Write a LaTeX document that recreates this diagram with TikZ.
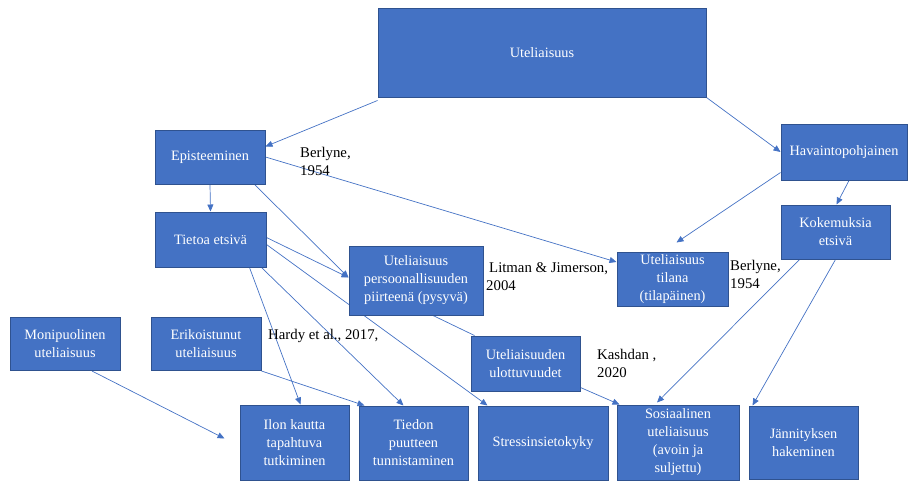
\documentclass[tikz,border=0pt]{standalone}
\usepackage{fontspec}
\setmainfont{Liberation Serif}
\usetikzlibrary{arrows.meta,backgrounds}
\definecolor{boxfill}{HTML}{4472C4}
\definecolor{boxline}{HTML}{2F528F}
\definecolor{linkblue}{HTML}{4472C4}

\begin{document}
\begin{tikzpicture}[x=1pt,y=-1pt,
  box/.style={draw=boxline, line width=1pt, fill=boxfill, text=white,
    align=center, inner sep=0pt, font=\fontsize{14.3}{18}\selectfont},
  wh/.style 2 args={minimum width=#1pt, minimum height=#2pt},
  ref/.style={anchor=west, align=left, inner sep=0pt,
    font=\fontsize{14.8}{18}\selectfont, text=black},
  link/.style={draw=linkblue, line width=0.7pt},
  arr/.style={link, -{Triangle[length=7pt,width=6pt]}}]
\useasboundingbox (0,0) rectangle (909,482);

% concept boxes
\node[box, wh={328}{89}]  (U) at (542,52.5)   {Uteliaisuus};
\node[box, wh={110}{54}]  (E) at (210,157)    {Episteeminen};
\node[box, wh={126}{56}]  (H) at (844,152)    {Havaintopohjainen};
\node[box, wh={111}{55}]  (T) at (210.5,239.5){Tietoa etsivä};
\node[box, wh={109}{54}]  (K) at (835.5,232)  {Kokemuksia\\etsivä};
\node[box, wh={134}{69}]  (P) at (416,280.5)  {Uteliaisuus\\persoonallisuuden\\piirteenä (pysyvä)};
\node[box, wh={111}{54}]  (S) at (672.5,279)  {Uteliaisuus\\tilana\\(tilapäinen)};
\node[box, wh={110}{53}]  (M) at (65,344)     {Monipuolinen\\uteliaisuus};
\node[box, wh={110}{53}]  (R) at (206,344)    {Erikoistunut\\uteliaisuus};
\node[box, wh={109}{55}]  (D) at (525.5,363.5){Uteliaisuuden\\ulottuvuudet};
\node[box, wh={109}{75}]  (I) at (294.5,442.5){Ilon kautta\\tapahtuva\\tutkiminen};
\node[box, wh={109}{74}]  (N) at (413.5,443)  {Tiedon\\puutteen\\tunnistaminen};
\node[box, wh={130}{74}]  (Z) at (543,443)    {Stressinsietokyky};
\node[box, wh={122}{75}]  (O) at (678,442.5)  {Sosiaalinen\\uteliaisuus\\(avoin ja\\suljettu)};
\node[box, wh={109}{73}]  (J) at (803.5,442.5){Jännityksen\\hakeminen};

% source references
\node[ref] (L1) at (300,161.5) {Berlyne,\\1954};
\node[ref] (L2) at (486,277)   {\hspace*{3pt}Litman \& Jimerson,\\2004};
\node[ref] (L3) at (730,274)   {Berlyne,\\1954};
\node[ref] (L4) at (268,336)   {Hardy et al., 2017,};
\node[ref] (L5) at (597,363)   {Kashdan ,\\2020};

% loose arrow end left of the exploration box
\coordinate (Mtip) at ([xshift=-15pt,yshift=4pt]I.west);

% connectors, kept behind the boxes
\begin{scope}[on background layer]
\draw[arr] ([yshift=-3pt]U.south west) -- ([yshift=-17pt]E.north east);
\draw[arr] (U.south east) -- (H.west);
\draw[arr] (E.south) -- (T.north);
\draw[arr] (E.east) -- ([yshift=17pt]S.west);
\draw[arr] ([xshift=-11pt]E.south east) -- ([yshift=3pt]P.west);
\draw[arr] ([yshift=2pt]T.east) -- ([yshift=3pt]P.west);
\draw[arr] ([yshift=-5pt]T.east) -- ([xshift=10pt]Z.north west);
\draw[arr] ([xshift=-17pt]T.south east) -- ([xshift=6pt]I.north);
\draw[arr] ([xshift=-5pt]T.south east) -- ([xshift=-10pt]N.north);
\draw[link] ([xshift=17pt]P.south) -- ([xshift=4pt]D.north west);
\draw[arr] ([xshift=27pt]M.south) -- (Mtip);
\draw[arr] (R.south east) -- ([xshift=6pt]N.north west);
\draw[arr] ([yshift=8pt]H.south west) -- ([xshift=4pt,yshift=9pt]S.north);
\draw[arr] ([xshift=5pt]H.south) -- ([xshift=1pt]K.north);
\draw[arr] ([xshift=19pt]K.south west) -- ([xshift=-21pt,yshift=2pt]O.north);
\draw[arr] (K.south) -- ([xshift=4pt]J.north west);
\draw[arr] ([yshift=4pt]D.south east) -- ([xshift=3pt]O.north west);
\end{scope}
\end{tikzpicture}
\end{document}
